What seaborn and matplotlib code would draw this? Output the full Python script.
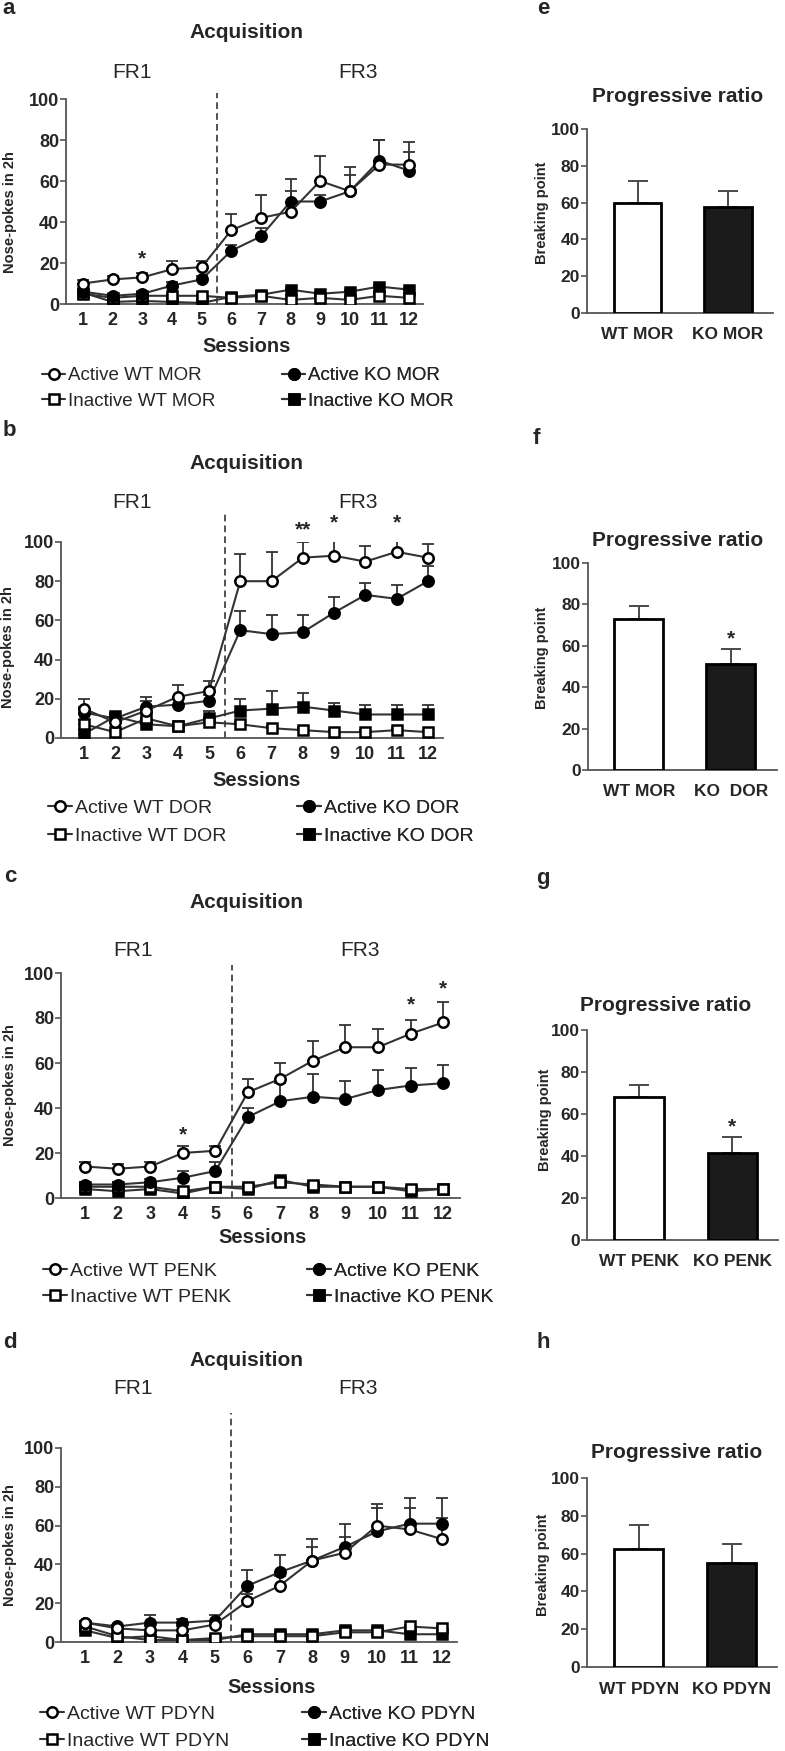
import matplotlib
matplotlib.use('Agg')
import matplotlib.pyplot as plt
import numpy as np
import pandas as pd
import seaborn as sns

sessions = list(range(1, 13))

# a - MOR acquisition
mor_act_wt = [10, 12, 13, 17, 18, 36, 42, 45, 60, 55, 68, 68]
mor_act_wt_err = [1.5, 1.5, 2, 4, 3, 8, 11, 10, 12, 8, 12, 11]
mor_act_ko = [6, 4, 5, 9, 12, 26, 33, 50, 50, 55, 70, 65]
mor_act_ko_err = [1, 1, 1, 1.5, 1.5, 3, 4, 11, 3, 12, 10, 9]
mor_inact_wt = [5, 3, 4, 4, 4, 3, 4, 2, 3, 2, 4, 3]
mor_inact_wt_err = [1, 1, 1, 1, 1, 1, 1, 1, 1, 1, 1, 1]
mor_inact_ko = [5.5, 1, 1.5, 1, 0.5, 3.5, 4.5, 7, 5, 6, 8.5, 7]
mor_inact_ko_err = [1, 1, 1, 1, 1, 1, 1, 1, 1, 1, 1, 1]

# b - DOR acquisition
dor_act_wt = [15, 8, 14, 21, 24, 80, 80, 92, 93, 90, 95, 92]
dor_act_wt_err = [5, 2, 7, 6, 5, 14, 15, 8, 10, 8, 9, 7]
dor_act_ko = [13, 10, 16, 17, 19, 55, 53, 54, 64, 73, 71, 80]
dor_act_ko_err = [3, 2, 3, 3, 3, 10, 10, 9, 8, 6, 7, 8]
dor_inact_wt = [7, 3, 10, 6, 8, 7, 5, 4, 3, 3, 4, 3]
dor_inact_wt_err = [2, 1, 2, 1, 2, 1, 1, 1, 1, 1, 1, 1]
dor_inact_ko = [2, 11, 7, 6, 10, 14, 15, 16, 14, 12, 12, 12]
dor_inact_ko_err = [2, 2, 2, 1, 4, 6, 9, 7, 4, 5, 5, 5]

# c - PENK acquisition
penk_act_wt = [14, 13, 14, 20, 21, 47, 53, 61, 67, 67, 73, 78]
penk_act_wt_err = [2, 2, 2, 3, 2, 6, 7, 9, 10, 8, 6, 9]
penk_act_ko = [6, 6, 7, 9, 12, 36, 43, 45, 44, 48, 50, 51]
penk_act_ko_err = [1, 1, 1.5, 3, 4, 4, 8, 10, 8, 9, 8, 8]
penk_inact_wt = [5, 5, 5, 3, 5, 5, 7, 6, 5, 5, 4, 4]
penk_inact_wt_err = [1, 1, 1, 1, 1, 1, 1, 1, 1, 1, 1, 1]
penk_inact_ko = [4, 3, 4, 2, 5, 4, 8, 5, 5, 5, 3, 4]
penk_inact_ko_err = [1, 1, 1, 1, 1, 1, 1, 1, 1, 1, 1, 1]

# d - PDYN acquisition
pdyn_act_wt = [10, 7, 6, 6, 9, 21, 29, 42, 46, 60, 58, 53]
pdyn_act_wt_err = [1, 1, 2, 2, 2, 4, 5, 7, 8, 11, 11, 11]
pdyn_act_ko = [10, 8, 10, 10, 11, 29, 36, 42, 49, 57, 61, 61]
pdyn_act_ko_err = [1, 1, 4, 2, 3, 8, 9, 11, 12, 12, 13, 13]
pdyn_inact_wt = [8, 3, 1, 1, 2, 3, 3, 3, 5, 5, 8, 7]
pdyn_inact_wt_err = [1, 1, 1, 1, 1, 1, 1, 1, 1, 1, 1, 1]
pdyn_inact_ko = [6, 2, 3, 1, 1, 4, 4, 4, 6, 6, 4, 4]
pdyn_inact_ko_err = [1, 1, 1, 1, 1, 1, 1, 1, 1, 1, 1, 1]

# e-h progressive ratio
pr_mor_labels = ['WT MOR', 'KO MOR']
pr_mor = [60, 57.5]
pr_mor_err = [12, 9]
pr_dor_labels = ['WT MOR', 'KO  DOR']
pr_dor = [73, 51]
pr_dor_err = [6, 7.5]
pr_penk_labels = ['WT PENK', 'KO PENK']
pr_penk = [68, 41.5]
pr_penk_err = [6, 7.5]
pr_pdyn_labels = ['WT PDYN', 'KO PDYN']
pr_pdyn = [62.5, 55]
pr_pdyn_err = [12.5, 10]

W, H = 785, 1751
AXC = '#555555'
LC = '#333333'

sns.set_style('ticks')
plt.rcParams['font.family'] = ['Liberation Sans', 'DejaVu Sans']

fig = plt.figure(figsize=(W / 100, H / 100), dpi=100)


def add_ax(box):
    l, t, r, b = box
    return fig.add_axes([l / W, 1 - b / H, (r - l) / W, (b - t) / H])


def ftext(x, y, s, **kw):
    fig.text(x / W, 1 - y / H, s, ha='center', va='center', **kw)


def to_ax(box, x, y):
    l, t, r, b = box
    return (x - l) / (r - l), (b - y) / (b - t)


def style_axes(ax, box, ylab, ylab_xy, fs_tick, pad):
    sns.despine(ax=ax)
    for sp in ['left', 'bottom']:
        ax.spines[sp].set_color(AXC)
        ax.spines[sp].set_linewidth(1.3)
    ax.set_ylim(0, 100)
    ax.set_yticks([0, 20, 40, 60, 80, 100])
    ax.tick_params(axis='y', length=4, width=1.2, color=AXC, pad=1, labelsize=fs_tick)
    ax.tick_params(axis='x', length=0, pad=pad, labelsize=fs_tick)
    for lab in ax.get_xticklabels() + ax.get_yticklabels():
        lab.set_fontweight('bold')
    yl = ax.set_ylabel(ylab, fontsize=10.5, fontweight='bold')
    yl.set_va('center')
    ax.yaxis.set_label_coords(*to_ax(box, *ylab_xy))


def acquisition(box, xlim, dash_top, series, labels, stars, txt, leg, leg_fs):
    ax = add_ax(box)
    looks = [('o', 'white'), ('o', 'black'), ('s', 'white'), ('s', 'black')]
    handles = []
    for i in [3, 2, 1, 0]:
        mean, err = series[i]
        m, fc = looks[i]
        ax.errorbar(sessions, mean, yerr=[np.zeros(len(mean)), err], fmt='none',
                    ecolor=LC, elinewidth=1.3, capsize=4, capthick=1.3, zorder=2 + i * 0.1)
        df = pd.DataFrame({'Sessions': sessions, 'val': mean})
        sns.lineplot(data=df, x='Sessions', y='val', ax=ax, color=LC, lw=1.5,
                     marker=m, markersize=7.5, markerfacecolor=fc,
                     markeredgecolor='black', markeredgewidth=1.8,
                     zorder=3 + (3 - i) * 0.1, legend=False)
        handles.append(ax.lines[-1])
    handles = handles[::-1]
    ax.axvline(5.5, ymin=0, ymax=dash_top, ls=(0, (4, 2.5)), color=LC, lw=1.2, clip_on=False)
    ax.set_xlim(*xlim)
    ax.set_xticks(sessions)
    ax.set_xticklabels([str(s) for s in sessions])
    style_axes(ax, box, 'Nose-pokes in 2h', txt['ylab'], 13, 6)
    xl = ax.set_xlabel('Sessions', fontsize=14.5, fontweight='bold')
    xl.set_va('center')
    ax.xaxis.set_label_coords(*to_ax(box, *txt['xlab']))
    for sx, sy, s in stars:
        ax.text(sx, sy, s, ha='center', va='center', fontsize=15, fontweight='bold')
    ftext(*txt['letter'], txt['letter_s'], fontsize=16, fontweight='bold')
    ftext(*txt['title'], 'Acquisition', fontsize=15, fontweight='bold')
    ftext(*txt['fr1'], 'FR1', fontsize=15)
    ftext(*txt['fr3'], 'FR3', fontsize=15)
    (x1, x2), (y1, y2) = leg
    for col, xs in [(0, x1), (1, x2)]:
        hh = [handles[col], handles[col + 2]]
        ll = [labels[col], labels[col + 2]]
        lg = ax.legend(hh, ll, loc='center left', bbox_to_anchor=(xs / W, 1 - (y1 + y2) / 2 / H),
                       bbox_transform=fig.transFigure, frameon=False, fontsize=leg_fs,
                       handlelength=1.25, handletextpad=0.15, borderpad=0, borderaxespad=0,
                       labelspacing=(y2 - y1) / (leg_fs * 100 / 72) - 1.0)
        ax.add_artist(lg)
    return ax


def progressive(box, xlim, labels, means, errs, star, txt, pad):
    ax = add_ax(box)
    df = pd.DataFrame({'grp': labels, 'bp': means})
    sns.barplot(data=df, x='grp', y='bp', hue='grp', palette=['white', '#1b1b1b'],
                edgecolor='black', linewidth=2, width=0.53, ax=ax, legend=False,
                errorbar=None, zorder=3)
    ax.errorbar([0, 1], means, yerr=[[0, 0], errs], fmt='none', ecolor='#4a4a4a',
                elinewidth=1.4, capsize=7, capthick=1.4, zorder=2)
    if star:
        ax.text(1, means[1] + errs[1] + 5, '*', ha='center', va='center',
                fontsize=15, fontweight='bold')
    ax.set_xlim(*xlim)
    style_axes(ax, box, 'Breaking point', txt['ylab'], 12.5, pad)
    ax.set_xlabel('')
    ftext(*txt['letter'], txt['letter_s'], fontsize=16, fontweight='bold')
    ftext(*txt['title'], 'Progressive ratio', fontsize=15, fontweight='bold')
    return ax


# line panels
acquisition((66, 99, 423, 304), (0.42, 12.47), 1.03,
            [(mor_act_wt, mor_act_wt_err), (mor_act_ko, mor_act_ko_err),
             (mor_inact_wt, mor_inact_wt_err), (mor_inact_ko, mor_inact_ko_err)],
            ['Active WT MOR', 'Active KO MOR', 'Inactive WT MOR', 'Inactive KO MOR'],
            [(3, 22, '*')],
            dict(letter=(9, 9), letter_s='a', title=(246, 33), fr1=(132, 72), fr3=(358, 72),
                 xlab=(247, 346), ylab=(10, 212)),
            ((42, 282), (375, 402)), 13.5)

acquisition((61, 542, 443, 738), (0.27, 12.48), 1.143,
            [(dor_act_wt, dor_act_wt_err), (dor_act_ko, dor_act_ko_err),
             (dor_inact_wt, dor_inact_wt_err), (dor_inact_ko, dor_inact_ko_err)],
            ['Active WT DOR', 'Active KO DOR', 'Inactive WT DOR', 'Inactive KO DOR'],
            [(8, 106, '**'), (9, 110, '*'), (11, 110, '*')],
            dict(letter=(9, 431), letter_s='b', title=(246, 463), fr1=(132, 502), fr3=(358, 502),
                 xlab=(257, 780), ylab=(8, 647)),
            ((48, 297), (807, 837)), 14)

acquisition((61, 973, 460, 1198), (0.26, 12.52), 1.036,
            [(penk_act_wt, penk_act_wt_err), (penk_act_ko, penk_act_ko_err),
             (penk_inact_wt, penk_inact_wt_err), (penk_inact_ko, penk_inact_ko_err)],
            ['Active WT PENK', 'Active KO PENK', 'Inactive WT PENK', 'Inactive KO PENK'],
            [(4, 28, '*'), (11, 86, '*'), (12, 93, '*')],
            dict(letter=(10, 877), letter_s='c', title=(246, 903), fr1=(133, 950), fr3=(360, 950),
                 xlab=(263, 1237), ylab=(10, 1085)),
            ((43, 307), (1270, 1298)), 14)

acquisition((61, 1448, 457, 1642), (0.26, 12.46), 1.18,
            [(pdyn_act_wt, pdyn_act_wt_err), (pdyn_act_ko, pdyn_act_ko_err),
             (pdyn_inact_wt, pdyn_inact_wt_err), (pdyn_inact_ko, pdyn_inact_ko_err)],
            ['Active WT PDYN', 'Active KO PDYN', 'Inactive WT PDYN', 'Inactive KO PDYN'],
            [],
            dict(letter=(10, 1342), letter_s='d', title=(246, 1360), fr1=(133, 1388), fr3=(358, 1388),
                 xlab=(272, 1687), ylab=(10, 1545)),
            ((40, 302), (1713, 1742)), 14)

# bar panels
progressive((587, 129, 773, 313), (-0.56, 1.5), pr_mor_labels, pr_mor, pr_mor_err, False,
            dict(letter=(543, 9), letter_s='e', title=(678, 97), ylab=(542, 213)), 10)
progressive((588, 563, 777, 770), (-0.55, 1.5), pr_dor_labels, pr_dor, pr_dor_err, True,
            dict(letter=(536, 439), letter_s='f', title=(678, 540), ylab=(542, 658)), 10)
progressive((587, 1030, 778, 1240), (-0.56, 1.49), pr_penk_labels, pr_penk, pr_penk_err, True,
            dict(letter=(543, 878), letter_s='g', title=(666, 1005), ylab=(545, 1120)), 10)
progressive((587, 1478, 777, 1667), (-0.56, 1.49), pr_pdyn_labels, pr_pdyn, pr_pdyn_err, False,
            dict(letter=(543, 1342), letter_s='h', title=(677, 1452), ylab=(543, 1565)), 11)

fig.savefig('out.png', dpi=100, facecolor='white')
